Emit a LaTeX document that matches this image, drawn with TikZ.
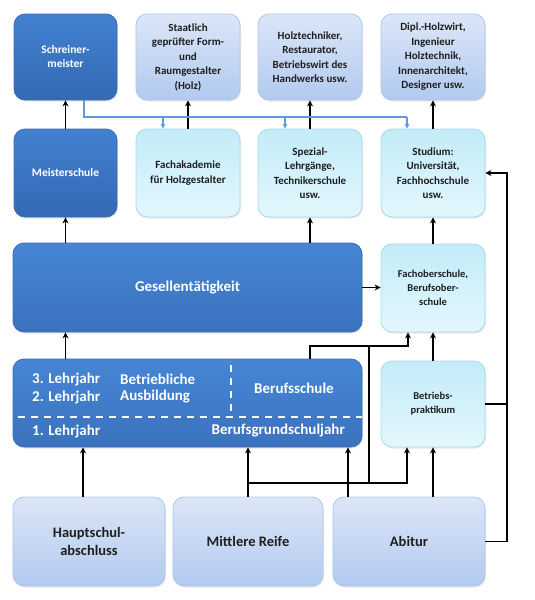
\documentclass[tikz,border=0pt]{standalone}
\usepackage{fontspec}
\setmainfont{Carlito}
\usetikzlibrary{arrows.meta,calc,shadows}
\definecolor{darkT}{HTML}{4281D0}
\definecolor{darkB}{HTML}{3469B4}
\definecolor{darkD}{HTML}{3A6DB4}
\definecolor{midT}{HTML}{4686D5}
\definecolor{midB}{HTML}{3A72BD}
\definecolor{cyanT}{HTML}{C3ECF9}
\definecolor{cyanB}{HTML}{E3F7FD}
\definecolor{cyanD}{HTML}{A9DAEC}
\definecolor{lavT}{HTML}{DCE6F8}
\definecolor{lavB}{HTML}{B1CAEF}
\definecolor{lavD}{HTML}{AFC6E8}
\definecolor{bluel}{HTML}{5C9BE4}
\definecolor{txt}{HTML}{1E1E1E}
\tikzset{
  box/.style={rounded corners=11pt, inner sep=2pt, align=center, font=\bfseries,
    drop shadow={opacity=0.18, shadow xshift=1pt, shadow yshift=-1.5pt}},
  darkbox/.style={box, top color=darkT, bottom color=darkB, draw=darkD, line width=0.8pt, text=white},
  midbox/.style={box, top color=midT, bottom color=midB, draw=darkD, line width=0.8pt, text=white},
  cyanbox/.style={box, top color=cyanT, bottom color=cyanB, draw=cyanD, line width=0.8pt, text=txt},
  lavbox/.style={box, top color=lavT, bottom color=lavB, draw=lavD, line width=0.8pt, text=txt},
  lbl/.style={inner sep=0pt, text=white, font=\fontsize{15}{18}\selectfont\bfseries},
  arr/.style={line width=1.9pt, black, -{Stealth[length=6pt,width=6pt]}},
  conn/.style={line width=1.9pt, black},
  barr/.style={line width=1.5pt, bluel, -{Stealth[length=5pt,width=5pt]}},
  bconn/.style={line width=1.5pt, bluel},
  wdash/.style={white, line width=1.5pt, dash pattern=on 7pt off 6pt}
}
\begin{document}
\begin{tikzpicture}[x=1pt,y=-1pt]
\useasboundingbox (0,0) rectangle (535,600);
% top row
\node[darkbox, minimum width=103pt, minimum height=86pt, font=\fontsize{11.5}{14}\selectfont\bfseries] (sm) at (65.5,57) {Schreiner-\\meister};
\node[lavbox, minimum width=104pt, minimum height=86pt, font=\fontsize{11}{14.5}\selectfont\bfseries] (st) at (188,57) {Staatlich\\geprüfter Form-\\und\\Raumgestalter\\(Holz)};
\node[lavbox, minimum width=104pt, minimum height=86pt, font=\fontsize{11}{14.5}\selectfont\bfseries] (ht) at (310,57) {Holztechniker,\\Restaurator,\\Betriebswirt des\\Handwerks usw.};
\node[lavbox, minimum width=104pt, minimum height=86pt, font=\fontsize{11}{14.5}\selectfont\bfseries] (dh) at (433,57) {Dipl.-Holzwirt,\\Ingenieur\\Holztechnik,\\Innenarchitekt,\\Designer usw.};
% second row
\node[darkbox, minimum width=103pt, minimum height=88pt, font=\fontsize{11.5}{14}\selectfont\bfseries] (ms) at (65.5,173) {Meisterschule};
\node[cyanbox, minimum width=104pt, minimum height=88pt, font=\fontsize{11}{14.5}\selectfont\bfseries] (fa) at (188,173) {Fachakademie\\für Holzgestalter};
\node[cyanbox, minimum width=104pt, minimum height=88pt, font=\fontsize{11}{14.5}\selectfont\bfseries] (sp) at (310,173) {Spezial-\\Lehrgänge,\\Technikerschule\\usw.};
\node[cyanbox, minimum width=104pt, minimum height=88pt, font=\fontsize{11}{14.5}\selectfont\bfseries] (su) at (433,173) {Studium:\\Universität,\\Fachhochschule\\usw.};
% third row
\node[midbox, minimum width=349pt, minimum height=89pt, font=\fontsize{15}{17}\selectfont\bfseries] (ge) at (187.5,287.5) {Gesellentätigkeit};
\node[cyanbox, minimum width=104pt, minimum height=88pt, font=\fontsize{10.5}{14}\selectfont\bfseries] (fo) at (433,288) {Fachoberschule,\\Berufsober-\\schule};
% fourth row
\node[midbox, minimum width=349pt, minimum height=88pt] (lj) at (187.5,403) {};
\node[cyanbox, minimum width=104pt, minimum height=86pt, font=\fontsize{10.5}{14}\selectfont\bfseries] (bp) at (433,404) {Betriebs-\\praktikum};
\node[lbl, anchor=west] (l3) at (32,379) {3. Lehrjahr};
\node[lbl, anchor=west] (l2) at (32,397) {2. Lehrjahr};
\node[lbl, anchor=west] (ba) at (120,379) {Betriebliche};
\node[lbl, anchor=west] (au) at (120,397) {Ausbildung};
\node[lbl] (bs) at (294,388) {Berufsschule};
\node[lbl, anchor=west] (l1) at (32,431) {1. Lehrjahr};
\node[lbl, anchor=east] (bg) at (345,431) {Berufsgrundschuljahr};
\draw[wdash] (231,365) -- (231,412);
\draw[wdash] (18,417) -- (362,417);
% bottom row
\node[lavbox, minimum width=152pt, minimum height=89pt, font=\fontsize{14.5}{18}\selectfont\bfseries] (hs) at (89,541.5) {Hauptschul-\\abschluss};
\node[lavbox, minimum width=150pt, minimum height=89pt, font=\fontsize{14.5}{18}\selectfont\bfseries] (mr) at (248,541.5) {Mittlere Reife};
\node[lavbox, minimum width=152pt, minimum height=89pt, font=\fontsize{14.5}{18}\selectfont\bfseries] (ab) at (409,541.5) {Abitur};
% coordinates
\coordinate (bl) at (84,117);
\coordinate (j1) at (369,346);
\coordinate (j2) at (248,483);
\coordinate (rc) at (507,403);
% top connectors
\draw[arr] (ms) -- (sm);
\draw[arr] (fa) -- (st);
\draw[arr] (sp) -- (ht);
\draw[arr] (su) -- (dh);
\draw[bconn] (sm.south -| bl) -- (bl) -- (bl -| 407,0);
\draw[barr] ([xshift=-25pt]fa.north |- bl) -- ([xshift=-25pt]fa.north);
\draw[barr] ([xshift=-25pt]sp.north |- bl) -- ([xshift=-25pt]sp.north);
\draw[barr] ([xshift=-26pt]su.north |- bl) -- ([xshift=-26pt]su.north);
% middle connectors
\draw[arr] (ge.north -| ms.south) -- (ms.south);
\draw[arr] (ge.north -| sp.south) -- (sp.south);
\draw[arr] (fo) -- (su);
\draw[arr] (ge.east) -- (fo.west |- ge.east);
\draw[arr] (lj.north -| ms.south) -- (ge.south -| ms.south);
\draw[arr] (lj.north -| sp.south) |- (j1) -| ([xshift=-25pt]fo.south);
\draw[arr] (bp) -- (fo);
% lower connectors
\draw[arr] ([xshift=-6pt]hs.north) -- ([xshift=-6pt]hs.north |- lj.south);
\draw[arr] (mr.north) -- (mr.north |- lj.south);
\draw[arr] (j2) -| ([xshift=-26pt]bp.south);
\draw[conn] (j1) -- (j1 |- j2);
\draw[arr] ([xshift=-61pt]ab.north) -- ([xshift=-61pt]ab.north |- lj.south);
\draw[arr] (ab.north -| bp.south) -- (bp.south);
\draw[arr] (ab.east) -| ([xshift=22pt]su.east) -- (su.east);
\draw[conn] (bp.east) -- (bp.east -| rc);
\end{tikzpicture}
\end{document}
